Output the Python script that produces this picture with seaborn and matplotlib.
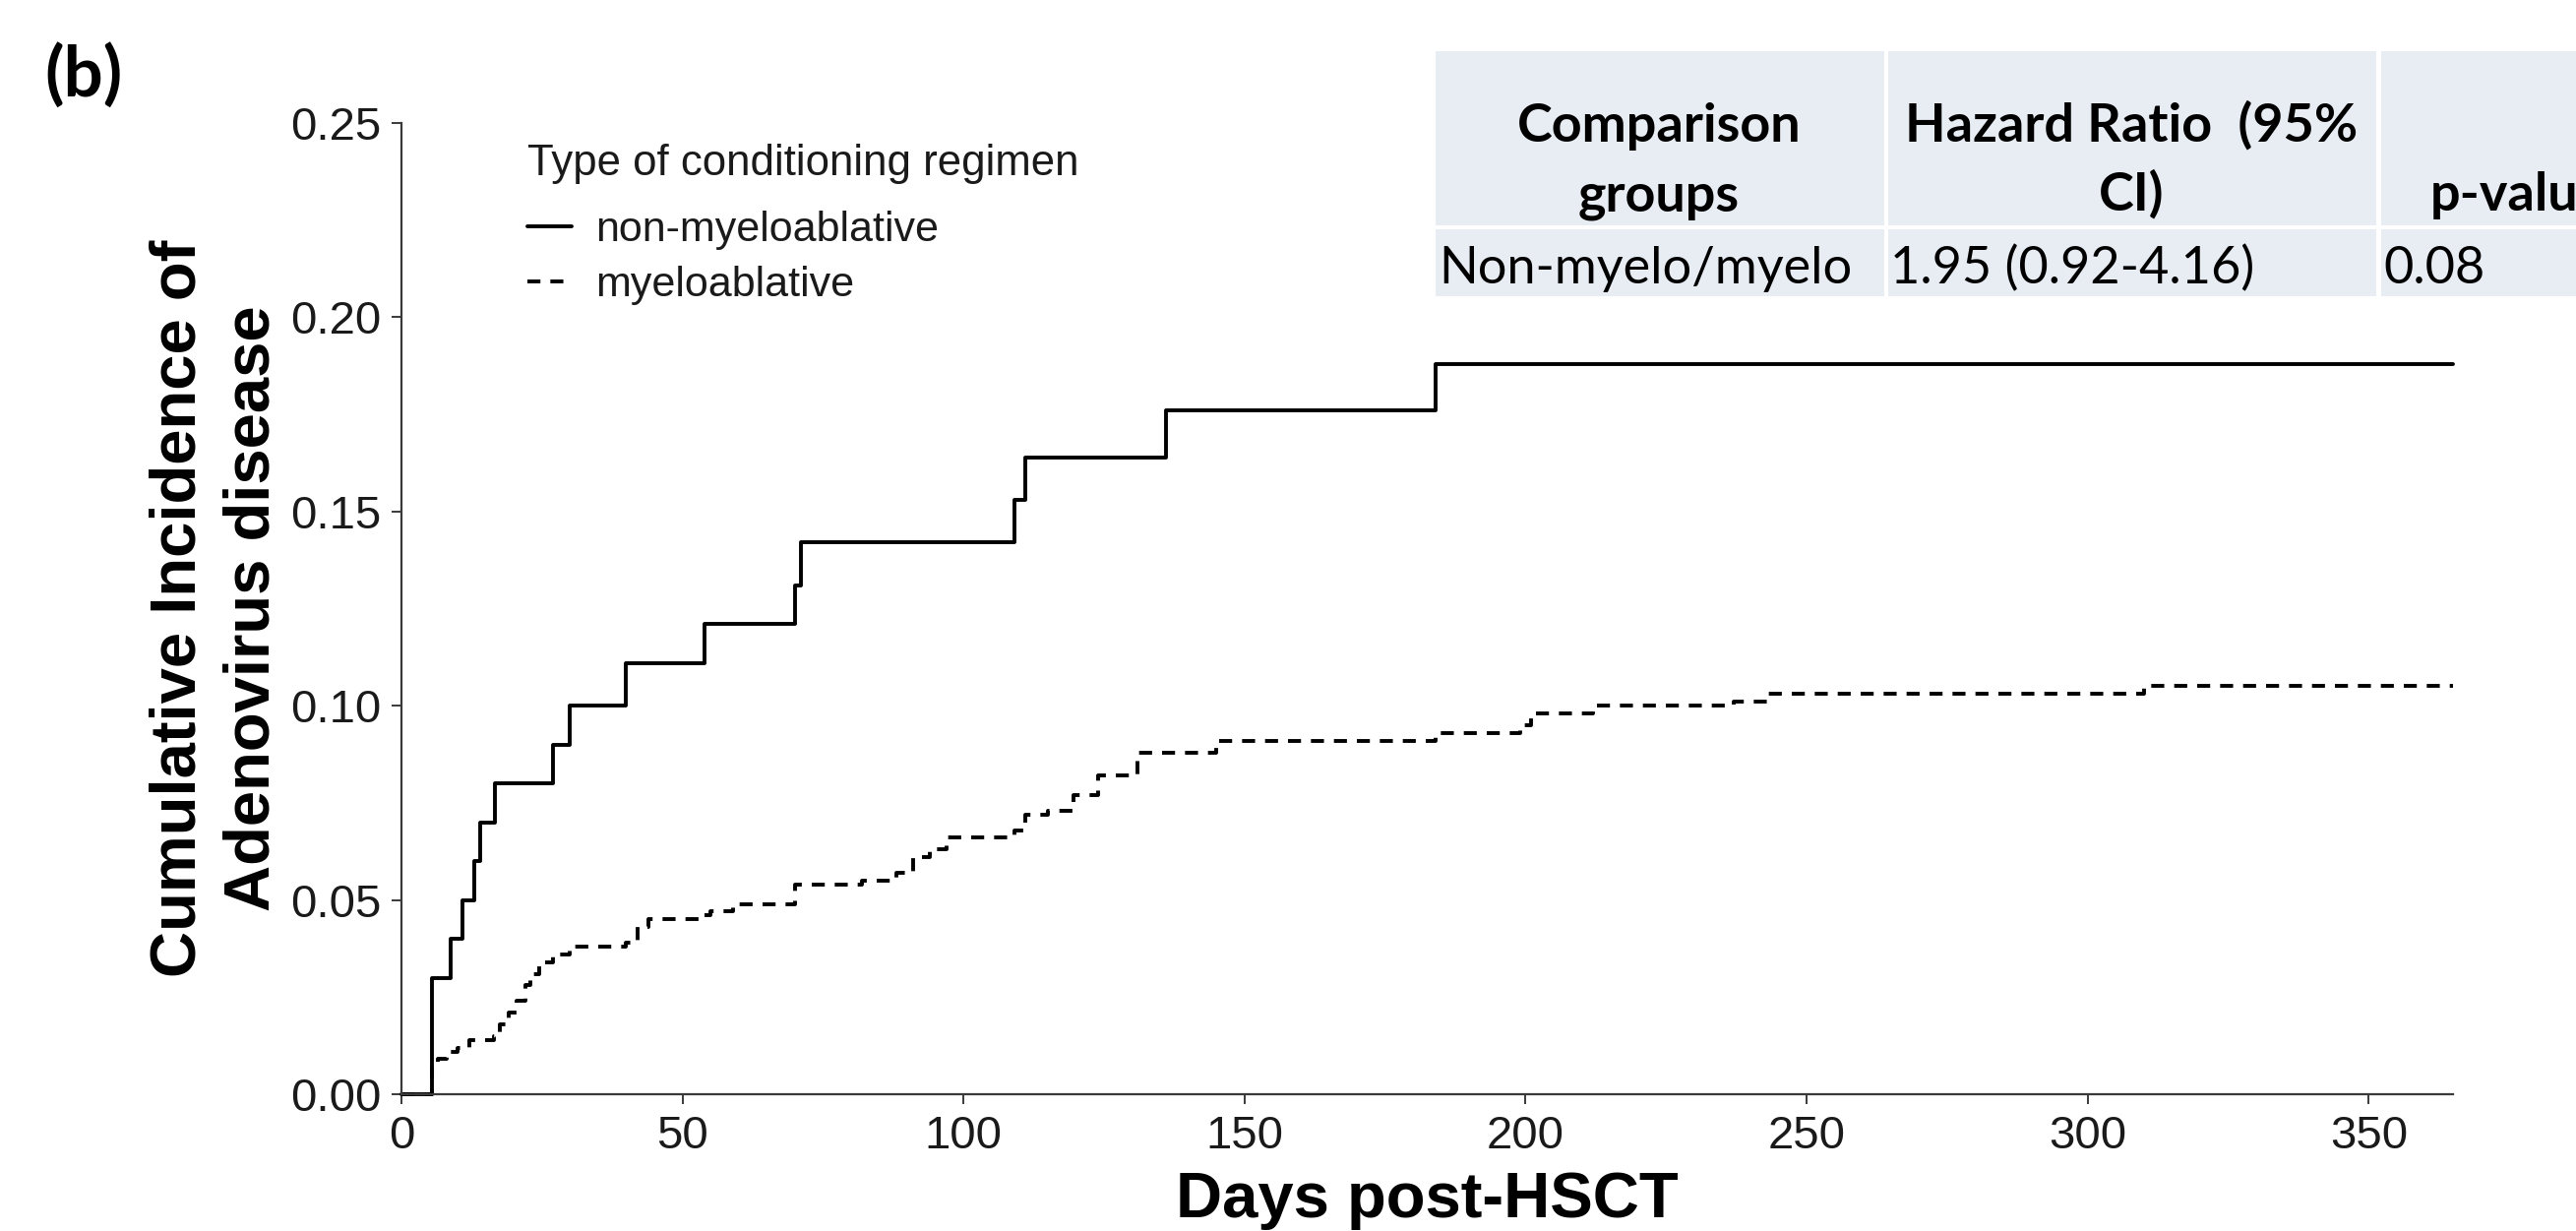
import numpy as np
import pandas as pd
import matplotlib
matplotlib.use("Agg")
import matplotlib.pyplot as plt
import seaborn as sns
from matplotlib.patches import Rectangle

# ---------------- data ----------------
groups = ["non-myeloablative", "myeloablative"]

days_nonmyelo = [0, 5.5, 8.8, 10.8, 13.0, 14.0, 16.7, 27.0, 30.0, 40.0, 54.0,
                 70.0, 71.0, 109.0, 111.0, 136.0, 184.0, 365.0]
ci_nonmyelo = [0.0, 0.030, 0.040, 0.050, 0.060, 0.070, 0.080, 0.090, 0.100,
               0.111, 0.121, 0.131, 0.142, 0.153, 0.164, 0.176, 0.188, 0.188]

days_myelo = [0, 5.5, 6.5, 8, 10, 12, 16.5, 17.5, 19, 20.5, 22, 23, 24.5, 27,
              30, 40, 42, 44, 53, 55, 59, 70, 82, 88, 91, 94, 97, 109, 111,
              115, 119.5, 124, 131, 145, 184, 199, 201, 212, 237, 243, 310, 365]
ci_myelo = [0.0, 0.007, 0.009, 0.011, 0.012, 0.014, 0.015, 0.018, 0.021,
            0.024, 0.028, 0.031, 0.034, 0.036, 0.038, 0.039, 0.043, 0.045,
            0.046, 0.047, 0.049, 0.054, 0.055, 0.057, 0.061, 0.063, 0.066,
            0.068, 0.072, 0.073, 0.077, 0.082, 0.088, 0.091, 0.093, 0.095,
            0.098, 0.100, 0.101, 0.103, 0.105, 0.105]

x_ticks = [0, 50, 100, 150, 200, 250, 300, 350]
y_ticks = [0.00, 0.05, 0.10, 0.15, 0.20, 0.25]

legend_title = "Type of conditioning regimen"
x_label = "Days post-HSCT"
y_label = "Cumulative Incidence of\nAdenovirus disease"
panel_label = "(b)"
table_header_1 = ["Comparison", "Hazard Ratio  (95%", ""]
table_header_2 = ["groups", "CI)", "p-value"]
table_row = ["Non-myelo/myelo", "1.95 (0.92-4.16)", "0.08"]

df = pd.concat([
    pd.DataFrame({"day": days_nonmyelo, "ci": ci_nonmyelo, "group": groups[0]}),
    pd.DataFrame({"day": days_myelo, "ci": ci_myelo, "group": groups[1]}),
], ignore_index=True)

# ---------------- style ----------------
sns.set_theme(style="ticks")
plt.rcParams["font.family"] = ["Liberation Sans", "DejaVu Sans"]

W, H = 2618, 1251
fig = plt.figure(figsize=(W / 100, H / 100), dpi=100)
fig.patch.set_facecolor("white")


def fx(px):
    return px / W


def fy(py):
    return 1 - py / H


ax_left, ax_right, ax_top, ax_bot = 408, 2493, 125, 1112
ax = fig.add_axes([fx(ax_left), fy(ax_bot), (ax_right - ax_left) / W,
                   (ax_bot - ax_top) / H])
ax.patch.set_visible(False)

sns.lineplot(data=df, x="day", y="ci", style="group", style_order=groups,
             dashes={groups[0]: "", groups[1]: (3.4, 2.6)},
             color="black", linewidth=2.8, drawstyle="steps-post",
             estimator=None, sort=False, ax=ax)
for ln in ax.get_lines():
    ln.set_clip_on(False)

ax.set_xlim(0, 365)
ax.set_ylim(0, 0.25)
ax.set_xticks(x_ticks)
ax.set_yticks(y_ticks)
ax.set_yticklabels([f"{v:.2f}" for v in y_ticks])
sns.despine(ax=ax)
for s in ["left", "bottom"]:
    ax.spines[s].set_color("#3a3a3a")
    ax.spines[s].set_linewidth(1.6)
ax.tick_params(axis="both", labelsize=34, length=7, width=1.4,
               color="#3a3a3a", labelcolor="#1a1a1a", pad=8)

ax.set_xlabel(x_label, fontsize=47, fontweight="bold", color="black")
ax.xaxis.set_label_coords(0.5, (ax_bot - 1190) / (ax_bot - ax_top))
ax.set_ylabel(y_label, fontsize=47, fontweight="bold", color="black",
              linespacing=1.33)
ax.yaxis.set_label_coords((287 - ax_left) / (ax_right - ax_left), 0.5)

h, l = ax.get_legend_handles_labels()
leg = ax.legend(h, l, title=legend_title, loc="upper left",
                bbox_to_anchor=(fx(536), fy(146)), bbox_transform=fig.transFigure,
                frameon=False, fontsize=31, title_fontsize=31.5,
                handlelength=1.05, handletextpad=0.55, labelspacing=0.36,
                borderpad=0, borderaxespad=0, alignment="left")
leg._legend_box.sep = 0.36 * 31 + 8.5
for t in leg.get_texts():
    t.set_color("#1a1a1a")
leg.get_title().set_color("#1a1a1a")

# ---------------- table ----------------
cell_color = "#E8ECF3"
cols = [(1459, 1915), (1919, 2415), (2420, 2750)]
rows = [(52, 229), (233, 301)]
for (y0, y1) in rows:
    for (x0, x1) in cols:
        fig.add_artist(Rectangle((fx(x0), fy(y1)), (x1 - x0) / W, (y1 - y0) / H,
                                 transform=fig.transFigure, facecolor=cell_color,
                                 edgecolor="none", zorder=1))

renderer = fig.canvas.get_renderer()
tfam = ["Lato", "DejaVu Sans"]


def fit_size(s, weight, target_w, base=40):
    t = fig.text(0, 0, s, fontsize=base, fontweight=weight, family=tfam)
    w = t.get_window_extent(renderer).width
    t.remove()
    return base * target_w / w


hsize = fit_size(table_header_1[0], "bold", 289)
dsize = fit_size(table_row[0], "normal", 421)

centers = [1686, 2166]
for i in range(2):
    fig.text(fx(centers[i]), fy(144), table_header_1[i], ha="center", va="baseline",
             fontsize=hsize, fontweight="bold", family=tfam, color="black", zorder=5)
    fig.text(fx(centers[i]), fy(214), table_header_2[i], ha="center", va="baseline",
             fontsize=hsize, fontweight="bold", family=tfam, color="black", zorder=5)
fig.text(fx(2470), fy(214), table_header_2[2], ha="left", va="baseline",
         fontsize=hsize, fontweight="bold", family=tfam, color="black", zorder=5)

data_left = [1462, 1921, 2422]
for i in range(3):
    fig.text(fx(data_left[i]), fy(288), table_row[i], ha="left", va="baseline",
             fontsize=dsize, family=tfam, color="black", zorder=5)

fig.text(fx(45), fy(76), panel_label, ha="left", va="center", fontsize=51,
         fontweight="bold", family=tfam, color="black")

fig.savefig("out.png", dpi=100)
